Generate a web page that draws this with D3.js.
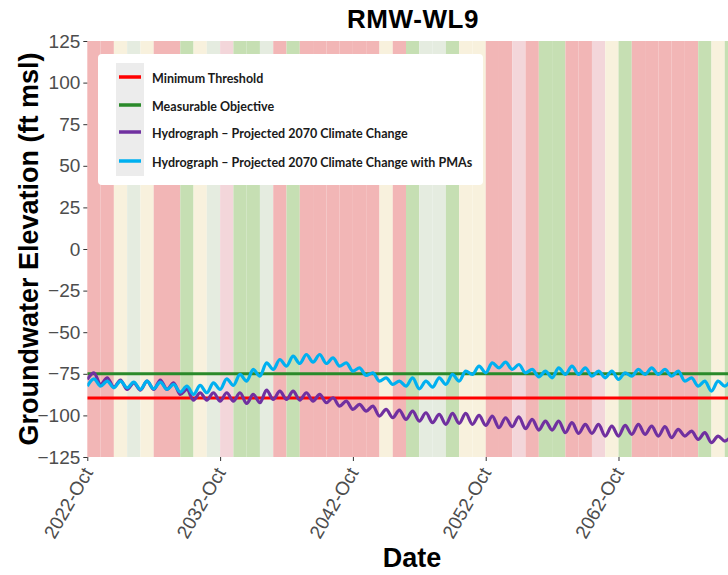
<!DOCTYPE html>
<html>
<head>
<meta charset="utf-8">
<script src="https://cdn.jsdelivr.net/npm/d3@7"></script>
<style>
  body { margin: 0; background: #fff; }
  svg { display: block; }
</style>
</head>
<body>
<div class="viz"></div>
<script>
// water year type for each water year, starting Oct 2022 (WY2023)
const yearTypes = ["C","C","BN","AN","BN","C","C","W","BN","AN",
    "D","W","W","AN","C","W","C","C","C","C",
    "C","C","BN","C","W","AN","AN","W","BN","BN",
    "C","C","D","C","W","W","C","C","D","BN",
    "W","C","C","C","C","C","W","BN","W"];
const typeColors = { C: "#f2b6b6", D: "#f3d6da", BN: "#f8f1dd", AN: "#e5ece0", W: "#c6dfb3" };

const minThreshold = -89.6;
const measurableObjective = -75;

// half-yearly readings (Oct, Apr, Oct, ...) starting 2022-Oct
const hydroClimate = [
    -78.4, -74.4, -81.4, -77.4, -83.0, -78.8, -84.4, -80.4, -84.8, -79.4,
    -84.4, -78.8, -84.4, -80.4, -87.4, -84.4, -90.8, -86.4, -90.8, -86.4,
    -91.4, -86.4, -91.4, -86.4, -92.8, -87.4, -92.4, -84.8, -90.4, -85.4,
    -90.4, -85.4, -90.8, -86.4, -91.4, -87.4, -92.4, -89.4, -94.4, -91.4,
    -96.4, -93.4, -97.4, -94.4, -100.4, -96.4, -101.4, -96.8, -102.4, -97.4,
    -103.4, -98.4, -104.4, -99.4, -105.4, -98.8, -104.8, -98.8, -105.4, -100.0,
    -106.0, -100.4, -107.4, -101.4, -106.8, -100.8, -108.0, -102.4, -108.8, -103.4,
    -108.8, -103.4, -110.4, -104.4, -110.8, -105.4, -110.8, -105.4, -112.4, -106.4,
    -112.4, -106.0, -111.4, -105.4, -111.4, -106.4, -112.4, -106.8, -113.4, -108.4,
    -112.4, -109.4, -114.4, -110.4, -116.4, -112.4, -115.4, -112.4
];
const hydroClimatePMA = [
    -82.4, -78.0, -82.4, -79.4, -83.4, -79.4, -83.4, -80.0, -84.4, -79.4,
    -84.0, -80.0, -84.4, -81.4, -86.0, -82.4, -87.4, -82.0, -86.4, -80.4,
    -84.4, -78.0, -82.0, -75.4, -79.4, -72.4, -76.4, -68.4, -72.4, -66.4,
    -70.4, -64.4, -68.8, -63.4, -68.0, -63.4, -68.8, -65.4, -70.4, -68.4,
    -73.4, -71.4, -76.0, -74.4, -79.4, -77.4, -81.4, -79.4, -82.4, -77.4,
    -84.0, -79.4, -83.0, -77.4, -81.4, -75.4, -79.4, -73.4, -75.4, -70.4,
    -74.4, -68.4, -71.4, -68.0, -72.4, -69.4, -74.4, -72.4, -76.8, -73.4,
    -77.4, -71.4, -75.4, -70.4, -75.4, -71.4, -76.4, -73.4, -77.4, -73.4,
    -78.4, -74.4, -76.4, -72.4, -75.4, -71.4, -75.4, -72.4, -76.4, -73.4,
    -79.4, -77.4, -82.4, -79.4, -85.4, -79.4, -82.4, -78.4
];

const yTicks = [125, 100, 75, 50, 25, 0, -25, -50, -75, -100, -125];
const xTickYears = [2022, 2032, 2042, 2052, 2062];

const legendItems = [
    { label: "Minimum Threshold", color: "#ff0000" },
    { label: "Measurable Objective", color: "#2a8a2a" },
    { label: "Hydrograph \u2013 Projected 2070 Climate Change", color: "#7030a0" },
    { label: "Hydrograph \u2013 Projected 2070 Climate Change with PMAs", color: "#00b0f0" }
];

const dimensions = {
    width: 728,
    height: 575,
    margin: { top: 41, right: -10, bottom: 118, left: 87.3 }
};
dimensions.boundedWidth = dimensions.width - dimensions.margin.left - dimensions.margin.right;
dimensions.boundedHeight = dimensions.height - dimensions.margin.top - dimensions.margin.bottom;

const start = new Date(2022, 9, 1);
const toPoints = vals => vals.map((v, i) => ({ date: d3.timeMonth.offset(start, 6 * i), value: v }));

const wrapper = d3.select(".viz")
    .append("svg")
    .attr("width", dimensions.width)
    .attr("height", dimensions.height);

const bounds = wrapper.append("g")
    .attr("transform", `translate(${dimensions.margin.left},${dimensions.margin.top})`);

const xScale = d3.scaleTime()
    .domain([start, new Date(2022 + yearTypes.length, 9, 1)])
    .range([0, dimensions.boundedWidth]);

const yScale = d3.scaleLinear()
    .domain([-125, 125])
    .range([dimensions.boundedHeight, 0]);

bounds.append("clipPath").attr("id", "panel-clip")
    .append("rect")
    .attr("width", dimensions.boundedWidth)
    .attr("height", dimensions.boundedHeight);

// water year bands
bounds.append("g")
    .selectAll("rect")
    .data(yearTypes)
    .join("rect")
    .attr("x", (d, i) => xScale(new Date(2022 + i, 9, 1)))
    .attr("width", (d, i) => xScale(new Date(2023 + i, 9, 1)) - xScale(new Date(2022 + i, 9, 1)))
    .attr("y", 0)
    .attr("height", dimensions.boundedHeight)
    .attr("fill", d => typeColors[d]);

const plot = bounds.append("g").attr("clip-path", "url(#panel-clip)");

const lineGenerator = d3.line()
    .x(d => xScale(d.date))
    .y(d => yScale(d.value))
    .curve(d3.curveMonotoneX);

plot.append("line")
    .attr("x1", 0).attr("x2", dimensions.boundedWidth)
    .attr("y1", yScale(measurableObjective)).attr("y2", yScale(measurableObjective))
    .attr("stroke", legendItems[1].color)
    .attr("stroke-width", 3);

plot.append("line")
    .attr("x1", 0).attr("x2", dimensions.boundedWidth)
    .attr("y1", yScale(minThreshold)).attr("y2", yScale(minThreshold))
    .attr("stroke", legendItems[0].color)
    .attr("stroke-width", 3);

plot.append("path")
    .attr("d", lineGenerator(toPoints(hydroClimate)))
    .attr("fill", "none")
    .attr("stroke", legendItems[2].color)
    .attr("stroke-width", 3.2)
    .attr("stroke-linejoin", "round");

plot.append("path")
    .attr("d", lineGenerator(toPoints(hydroClimatePMA)))
    .attr("fill", "none")
    .attr("stroke", legendItems[3].color)
    .attr("stroke-width", 3.2)
    .attr("stroke-linejoin", "round");

// axes
const yAxis = bounds.append("g")
    .call(d3.axisLeft(yScale).tickValues(yTicks).tickSize(4).tickPadding(3));
yAxis.select(".domain").remove();
yAxis.selectAll(".tick line").attr("stroke", "#333");
yAxis.selectAll("text")
    .attr("fill", "#4d4d4d")
    .style("font-family", "'Liberation Sans', Arial, sans-serif")
    .style("font-size", "19px");

const xAxis = bounds.append("g")
    .attr("transform", `translate(0,${dimensions.boundedHeight})`)
    .call(d3.axisBottom(xScale)
        .tickValues(xTickYears.map(y => new Date(y, 9, 1)))
        .tickFormat(d3.timeFormat("%Y-%b"))
        .tickSize(4));
xAxis.select(".domain").remove();
xAxis.selectAll(".tick line").attr("stroke", "#333");
xAxis.selectAll("text")
    .attr("fill", "#4d4d4d")
    .attr("x", 0).attr("y", 0).attr("dy", "0.35em")
    .attr("text-anchor", "end")
    .attr("transform", "translate(0,12) rotate(-60)")
    .style("font-family", "'Liberation Sans', Arial, sans-serif")
    .style("font-size", "19px");

// legend
const legend = wrapper.append("g").attr("transform", "translate(98,54)");
legend.append("rect")
    .attr("width", 385).attr("height", 131).attr("rx", 4)
    .attr("fill", "#fff");
legend.append("rect")
    .attr("x", 18).attr("y", 9).attr("width", 28).attr("height", 113)
    .attr("fill", "#ececec");
const keyY = [23, 51, 78, 107];
const legendRows = legend.selectAll(".row")
    .data(legendItems)
    .join("g")
    .attr("class", "row")
    .attr("transform", (d, i) => `translate(0,${keyY[i]})`);
legendRows.append("line")
    .attr("x1", 21).attr("x2", 43)
    .attr("stroke", d => d.color)
    .attr("stroke-width", 3.5);
legendRows.append("text")
    .attr("x", 54).attr("y", 2)
    .attr("dy", "0.35em")
    .text(d => d.label)
    .style("font-family", "Lato, 'Open Sans', sans-serif")
    .style("font-weight", "bold")
    .style("font-size", "12.5px")
    .attr("fill", "#1a1a1a");

// titles
wrapper.append("text")
    .attr("x", 413).attr("y", 28)
    .attr("text-anchor", "middle")
    .text("RMW-WL9")
    .style("font-family", "'Liberation Sans', Arial, sans-serif")
    .style("font-weight", "bold")
    .style("font-size", "26px")
    .style("letter-spacing", "0.6px");

wrapper.append("text")
    .attr("x", 412).attr("y", 567)
    .attr("text-anchor", "middle")
    .text("Date")
    .style("font-family", "'Liberation Sans', Arial, sans-serif")
    .style("font-weight", "bold")
    .style("font-size", "27px");

wrapper.append("text")
    .attr("transform", `translate(38,${dimensions.margin.top + dimensions.boundedHeight / 2}) rotate(-90)`)
    .attr("text-anchor", "middle")
    .text("Groundwater Elevation (ft msl)")
    .style("font-family", "'Liberation Sans', Arial, sans-serif")
    .style("font-weight", "bold")
    .style("font-size", "27px");
</script>
</body>
</html>
